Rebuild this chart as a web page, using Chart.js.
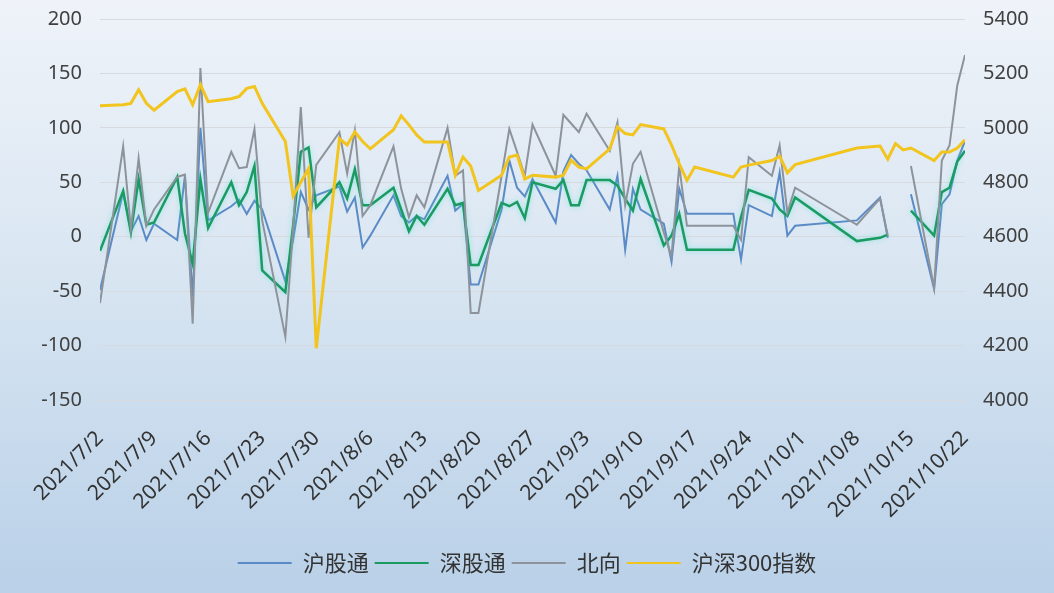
<!DOCTYPE html>
<html>
<head>
<meta charset="utf-8">
<script src="https://cdn.jsdelivr.net/npm/chart.js@4.4.1/dist/chart.umd.min.js"></script>
<style>
  html, body { margin: 0; padding: 0; }
  body { width: 1054px; height: 593px; overflow: hidden; }
</style>
</head>
<body>
<canvas id="chart" width="1054" height="593"></canvas>
<script>
// trading days shown on the chart (10/13, 10/14: no northbound trading)
var dates = [
  '2021/7/2', '2021/7/5', '2021/7/6', '2021/7/7', '2021/7/8', '2021/7/9',
  '2021/7/12', '2021/7/13', '2021/7/14', '2021/7/15', '2021/7/16',
  '2021/7/19', '2021/7/20', '2021/7/21', '2021/7/22', '2021/7/23',
  '2021/7/26', '2021/7/27', '2021/7/28', '2021/7/29', '2021/7/30',
  '2021/8/2', '2021/8/3', '2021/8/4', '2021/8/5', '2021/8/6',
  '2021/8/9', '2021/8/10', '2021/8/11', '2021/8/12', '2021/8/13',
  '2021/8/16', '2021/8/17', '2021/8/18', '2021/8/19', '2021/8/20',
  '2021/8/23', '2021/8/24', '2021/8/25', '2021/8/26', '2021/8/27',
  '2021/8/30', '2021/8/31', '2021/9/1', '2021/9/2', '2021/9/3',
  '2021/9/6', '2021/9/7', '2021/9/8', '2021/9/9', '2021/9/10',
  '2021/9/13', '2021/9/14', '2021/9/15', '2021/9/16', '2021/9/17',
  '2021/9/22', '2021/9/23', '2021/9/24',
  '2021/9/27', '2021/9/28', '2021/9/29', '2021/9/30',
  '2021/10/8',
  '2021/10/11', '2021/10/12', '2021/10/13', '2021/10/14', '2021/10/15',
  '2021/10/18', '2021/10/19', '2021/10/20', '2021/10/21', '2021/10/22'
];

// 沪股通 (亿元)
var hgt = [
  -49, 41, 5, 19, -3, 12,
  -3, 56, -55, 100, 15,
  28, 34, 21, 33, 25,
  -41, -3, 41, 25, 38,
  46, 23, 36, -10, 1,
  38, 19, 13, 19, 16,
  56, 24, 30, -44, -44,
  25, 70, 45, 37, 53,
  13, 60, 75, 67, 61,
  25, 56, -12, 44, 25,
  12, -23, 44, 21, 21,
  21, -21, 29,
  19, 59, 1, 10,
  15,
  36, -1, null, null, 39,
  -48, 30, 39, 70, 88
];

// 深股通 (亿元)
var sgt = [
  -13, 42, 4, 53, 11, 13,
  55, 3, -25, 53, 8,
  50, 29, 41, 65, -31,
  -51, 10, 78, 82, 27,
  50, 35, 62, 29, 29,
  45, 25, 5, 19, 11,
  44, 29, 31, -26, -26,
  31, 28, 32, 17, 50,
  44, 52, 29, 29, 52,
  52, 47, 35, 24, 53,
  -8, 1, 21, -12, -12,
  -12, 18, 43,
  35, 25, 19, 36,
  -4,
  -1, 2, null, null, 24,
  1, 41, 45, 69, 79
];

// 北向 (亿元)
var north = [
  -61, 83, 7, 72, 10, 25,
  55, 57, -80, 155, 22,
  78, 63, 64, 99, 15,
  -92, 7, 119, -1, 66,
  96, 58, 98, 19, 29,
  83, 44, 18, 38, 27,
  100, 56, 61, -70, -70,
  56, 99, 78, 56, 103,
  56, 112, 104, 96, 113,
  79, 105, 29, 67, 78,
  4, -18, 65, 10, 10,
  10, -3, 73,
  56, 84, 22, 45,
  11,
  35, 1, null, null, 65,
  -47, 70, 84, 139, 167
];

// 沪深300指数 (right axis)
var csi300 = [
  5081, 5085, 5090, 5140, 5090, 5065,
  5133, 5143, 5085, 5159, 5096,
  5107, 5115, 5145, 5152, 5090,
  4950, 4750, 4800, 4850, 4190,
  4960, 4937, 4985, 4950, 4923,
  4993, 5044, 5011, 4974, 4948,
  4948, 4826, 4893, 4860, 4770,
  4826, 4893, 4900, 4812, 4826,
  4819, 4826, 4881, 4856, 4849,
  4923, 5004, 4979, 4974, 5012,
  4996, 4937, 4868, 4807, 4856,
  4819, 4856, 4863,
  4880, 4895, 4835, 4865,
  4926,
  4933, 4885, 4942, 4919, 4926,
  4880, 4911, 4911, 4926, 4956
];

var startDay = new Date(2021, 6, 2);

function dayIndex(s) {
  var p = s.split('/');
  var d = new Date(+p[0], +p[1] - 1, +p[2]);
  return Math.round((d - startDay) / 86400000);
}

function dayLabel(i) {
  var d = new Date(startDay.getTime() + i * 86400000);
  return d.getFullYear() + '/' + (d.getMonth() + 1) + '/' + d.getDate();
}

function points(values) {
  return values.map(function(v, i) {
    return { x: dayIndex(dates[i]), y: v };
  });
}

var bgPlugin = {
  id: 'bg',
  beforeDraw: function(chart) {
    var ctx = chart.ctx;
    var g = ctx.createLinearGradient(0, 0, 0, chart.height);
    g.addColorStop(0, '#eff3f9');
    g.addColorStop(0.45, '#d9e6f2');
    g.addColorStop(1, '#b9d0e8');
    ctx.save();
    ctx.fillStyle = g;
    ctx.fillRect(0, 0, chart.width, chart.height);
    ctx.restore();
  }
};

// soft cyan halo along the 深股通 line, as in the photo
var glowPlugin = {
  id: 'glow',
  beforeDatasetDraw: function(chart, args) {
    if (args.index !== 1) return;
    chart.ctx.save();
    chart.ctx.shadowColor = 'rgba(70, 225, 215, 0.55)';
    chart.ctx.shadowBlur = 5;
  },
  afterDatasetDraw: function(chart, args) {
    if (args.index !== 1) return;
    chart.ctx.restore();
  }
};

var tickFont = { family: "'Noto Sans', 'Noto Sans CJK SC', sans-serif", size: 20 };

function makeLine(label, values, color, width, axis, order) {
  return {
    label: label,
    data: points(values),
    borderColor: color,
    backgroundColor: color,
    borderWidth: width,
    pointRadius: 0,
    tension: 0,
    fill: false,
    spanGaps: false,
    yAxisID: axis,
    order: order
  };
}

function noPad(s) {
  s.paddingTop = 0;
  s.paddingBottom = 0;
}

var chart = new Chart(document.getElementById('chart'), {
  type: 'line',
  data: {
    datasets: [
      makeLine('沪股通', hgt, '#5b8bc6', 2, 'y', 3),
      makeLine('深股通', sgt, '#1b9a62', 2.5, 'y', 2),
      makeLine('北向', north, '#8d939b', 2, 'y', 1),
      makeLine('沪深300指数', csi300, '#f2c41e', 3, 'y1', 0)
    ]
  },
  options: {
    responsive: false,
    animation: false,
    devicePixelRatio: 1,
    layout: { padding: { top: 19, left: 0, right: 0, bottom: 9 } },
    plugins: {
      tooltip: { enabled: false },
      legend: {
        position: 'bottom',
        labels: {
          boxWidth: 54,
          boxHeight: 2,
          padding: 6,
          color: '#333',
          font: { family: "'Noto Sans CJK SC', sans-serif", size: 22 },
          generateLabels: function(c) {
            var items = Chart.defaults.plugins.legend.labels.generateLabels(c);
            items.sort(function(a, b) { return a.datasetIndex - b.datasetIndex; });
            items.forEach(function(it) {
              it.fillStyle = it.strokeStyle;
              it.lineWidth = 0;
            });
            return items;
          }
        }
      }
    },
    scales: {
      x: {
        type: 'linear',
        min: 0,
        max: 112,
        grid: { display: false },
        border: { display: false },
        ticks: {
          stepSize: 7,
          autoSkip: false,
          minRotation: 45,
          maxRotation: 45,
          padding: 18,
          color: '#333',
          font: { family: "'Noto Sans', sans-serif", size: 21 },
          callback: function(v) { return dayLabel(v); }
        },
        afterFit: function(s) { s.height = 146; }
      },
      y: {
        position: 'left',
        min: -150,
        max: 200,
        grid: { color: '#d7dbe0', drawTicks: false },
        border: { display: false },
        ticks: { stepSize: 50, padding: 18, color: '#404040', font: tickFont },
        afterFit: function(s) { s.width = 100; noPad(s); }
      },
      y1: {
        position: 'right',
        min: 4000,
        max: 5400,
        grid: { display: false, drawTicks: false },
        border: { display: false },
        ticks: {
          stepSize: 200,
          padding: 18,
          color: '#404040',
          font: tickFont,
          callback: function(v) { return String(v); }
        },
        afterFit: function(s) { s.width = 89; noPad(s); }
      }
    }
  },
  plugins: [bgPlugin, glowPlugin]
});
</script>
</body>
</html>
